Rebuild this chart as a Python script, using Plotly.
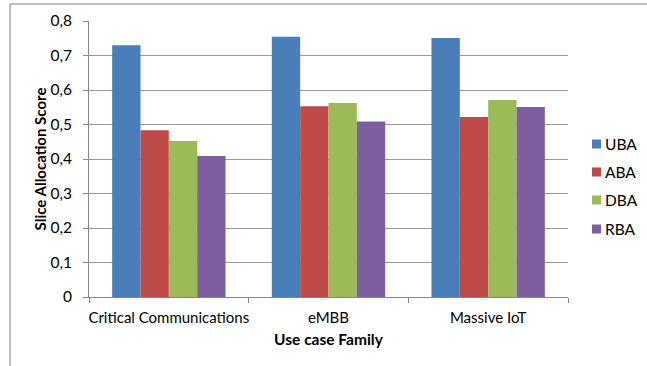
import plotly.graph_objects as go

categories = ["Critical Communications", "eMBB", "Massive IoT"]
series_names = ["UBA", "ABA", "DBA", "RBA"]
uba = [0.730, 0.754, 0.751]
aba = [0.483, 0.553, 0.522]
dba = [0.452, 0.562, 0.571]
rba = [0.409, 0.509, 0.551]
colors = ["#4A7EBB", "#BE4B48", "#9BBB59", "#7D5FA0"]
tick_vals = [0, 0.1, 0.2, 0.3, 0.4, 0.5, 0.6, 0.7, 0.8]
tick_text = ["0", "0,1", "0,2", "0,3", "0,4", "0,5", "0,6", "0,7", "0,8"]

FONT = "Lato, Carlito, 'Liberation Sans', Arial, sans-serif"

fig = go.Figure()
for i, (name, vals) in enumerate(zip(series_names, [uba, aba, dba, rba])):
    fig.add_trace(go.Bar(
        x=categories, y=vals, name=name,
        marker=dict(color=colors[i], line=dict(width=0)),
        showlegend=False,
    ))

W, H = 647, 366
L, R, T, B = 89, 79, 21, 69
pw = W - L - R
ph = H - T - B

def px(x):
    return (x - L) / pw

def py(y):
    return (H - B - y) / ph

fig.update_layout(
    width=W, height=H,
    margin=dict(l=L, r=R, t=T, b=B, autoexpand=False),
    paper_bgcolor="white", plot_bgcolor="white",
    barmode="group", bargap=0.29, bargroupgap=0,
    font=dict(family=FONT, size=15, color="#000000"),
    showlegend=False,
    xaxis=dict(
        showgrid=False, showline=True, linecolor="#868686", linewidth=1,
        ticks="outside", ticklen=5, tickcolor="#868686",
        tickson="boundaries", ticklabelstandoff=7, tickangle=0,
        tickfont=dict(size=15),
        title=dict(text="<b>Use case Family</b>", font=dict(size=15.5), standoff=9),
    ),
    yaxis=dict(
        range=[0, 0.8], tickvals=tick_vals, ticktext=tick_text,
        showgrid=True, gridcolor="#9A9A9A", gridwidth=1,
        showline=True, linecolor="#868686", linewidth=1,
        ticks="outside", ticklen=5, tickcolor="#868686",
        ticklabelstandoff=8,
        tickfont=dict(size=15.5), zeroline=False,
        title=dict(text="<b>Slice Allocation Score</b>", font=dict(size=15), standoff=0),
    ),
)

# manual legend (Excel-style) on the right
leg_y = [144, 172, 200, 229]
for name, col, yc in zip(series_names, colors, leg_y):
    fig.add_shape(type="rect", xref="paper", yref="paper",
                  x0=px(592), x1=px(601), y0=py(yc + 4.5), y1=py(yc - 4.5),
                  line=dict(width=0), fillcolor=col)
    fig.add_annotation(xref="paper", yref="paper", x=px(603), y=py(yc),
                       xanchor="left", yanchor="middle", showarrow=False,
                       text=name, font=dict(size=15.5))

# outer frame of the cropped figure
fig.add_shape(type="line", xref="paper", yref="paper",
              x0=px(10), x1=px(10), y0=py(4), y1=py(370),
              line=dict(color="#7F7F7F", width=1))
fig.add_shape(type="line", xref="paper", yref="paper",
              x0=px(10), x1=px(650), y0=py(4), y1=py(4),
              line=dict(color="#7F7F7F", width=1))

fig.write_html("out.html")
